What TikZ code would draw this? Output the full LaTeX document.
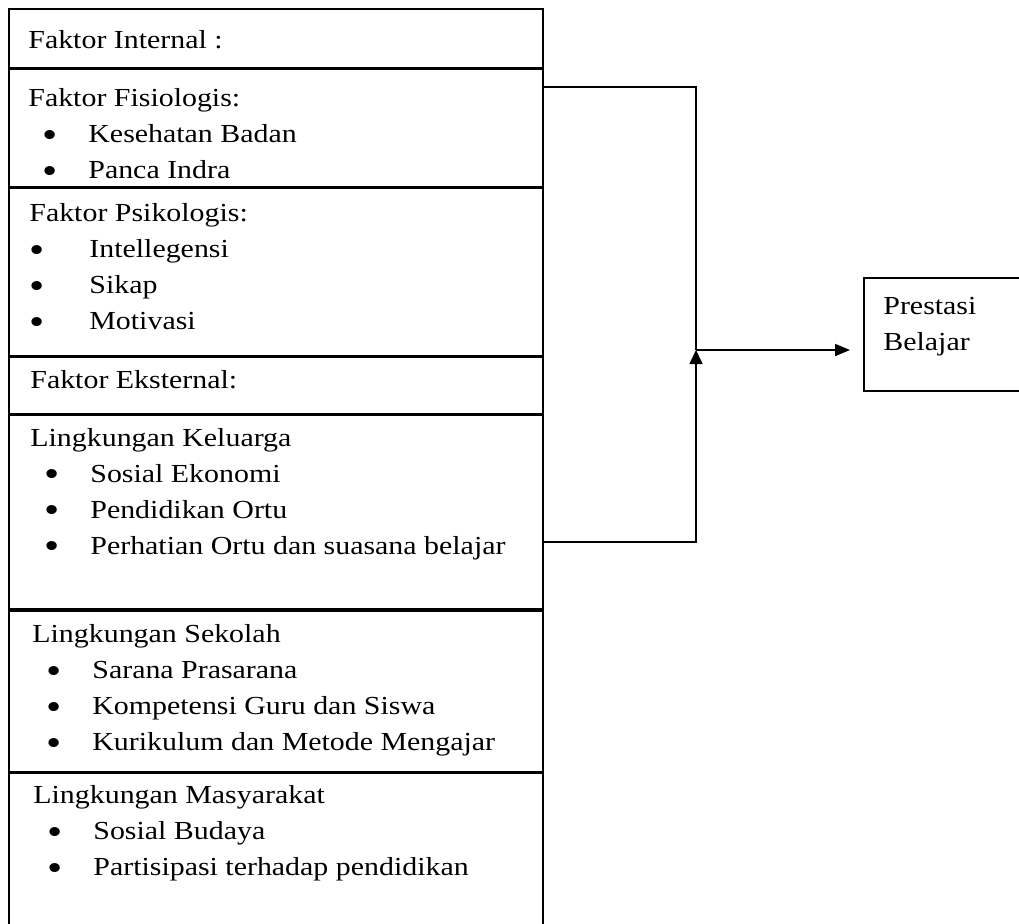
\documentclass[tikz,border=0pt]{standalone}
\usepackage{fontspec}
\setmainfont{Liberation Serif}[FakeStretch=1.15]
\usetikzlibrary{positioning, arrows.meta}

% bullet item: bullet shifted by #1, text 30pt in
\newcommand{\itm}[1][7pt]{\makebox[0pt][l]{\hspace*{#1}\raisebox{-2.4pt}{\scalebox{1.45}{\textbullet}}}\hspace*{30pt}}

\tikzset{
  sect/.style={draw, line width=0.8pt, anchor=north west, minimum width=267pt, inner sep=0pt},
  sectxt/.style={align=left, inner sep=0pt, font=\fontsize{13}{18}\selectfont},
  conn/.style={line width=0.8pt},
}

\begin{document}
\begin{tikzpicture}[x=0.5pt, y=-0.5pt]
\useasboundingbox (0,0) rectangle (1019,923);
% Left column of factors
\node[sect, minimum height=29.5pt] (intern) at (8,8) {};
\node[sect, minimum height=58.5pt, below=0pt of intern] (fisio) {};
\node[sect, minimum height=84pt, below=0pt of fisio] (psiko) {};
\node[sect, minimum height=28pt, below=0pt of psiko] (ekstern) {};
\node[sect, minimum height=97pt, below=0pt of ekstern] (kel) {};
\node[sect, minimum height=80.5pt, below=0pt of kel] (sek) {};
\node[sect, minimum height=81pt, below=0pt of sek] (masy) {};
% Texts
\node[sectxt, below right=7.5pt and 10pt of intern.north west] (interntxt) {\strut Faktor Internal :};
\node[sectxt, below right=6pt and 10pt of fisio.north west] (fisiotxt) {\strut Faktor Fisiologis:\\
  \itm Kesehatan Badan\\ \itm Panca Indra};
\node[sectxt, below right=4.5pt and 10.5pt of psiko.north west] (psikotxt) {\strut Faktor Psikologis:\\
  \itm[0pt]Intellegensi\\ \itm[0pt]Sikap\\ \itm[0pt]Motivasi};
\node[sectxt, below right=3pt and 11pt of ekstern.north west] (eksterntxt) {\strut Faktor Eksternal:};
\node[sectxt, below right=3pt and 11pt of kel.north west] (keltxt) {\strut Lingkungan Keluarga\\
  \itm Sosial Ekonomi\\ \itm Pendidikan Ortu\\ \itm Perhatian Ortu dan suasana belajar};
\node[sectxt, below right=3.5pt and 12pt of sek.north west] (sektxt) {\strut Lingkungan Sekolah\\
  \itm Sarana Prasarana\\ \itm Kompetensi Guru dan Siswa\\ \itm Kurikulum dan Metode Mengajar};
\node[sectxt, below right=2.5pt and 12.5pt of masy.north west] (masytxt) {\strut Lingkungan Masyarakat\\
  \itm Sosial Budaya\\ \itm Partisipasi terhadap pendidikan};
% Result
\node[sect, minimum width=84pt, minimum height=56.5pt] (prestasi) at (863,277) {};
\node[sectxt, below right=6pt and 10pt of prestasi.north west] (prestasitxt) {\strut Prestasi\\ Belajar};
% Connectors
\coordinate (up) at (696,87);
\coordinate (down) at (696,542);
\coordinate (junc) at (696,350);
\draw[conn] (fisio.east |- up) -- (up) -- (junc);
\draw[conn, -{Triangle[length=7pt,width=6.5pt]}] (kel.east |- down) -- (down) -- (junc);
\draw[conn, -{Triangle[length=7.5pt,width=6pt]}, shorten >=6.5pt] (junc) -- (junc -| prestasi.west);
\end{tikzpicture}
\end{document}
